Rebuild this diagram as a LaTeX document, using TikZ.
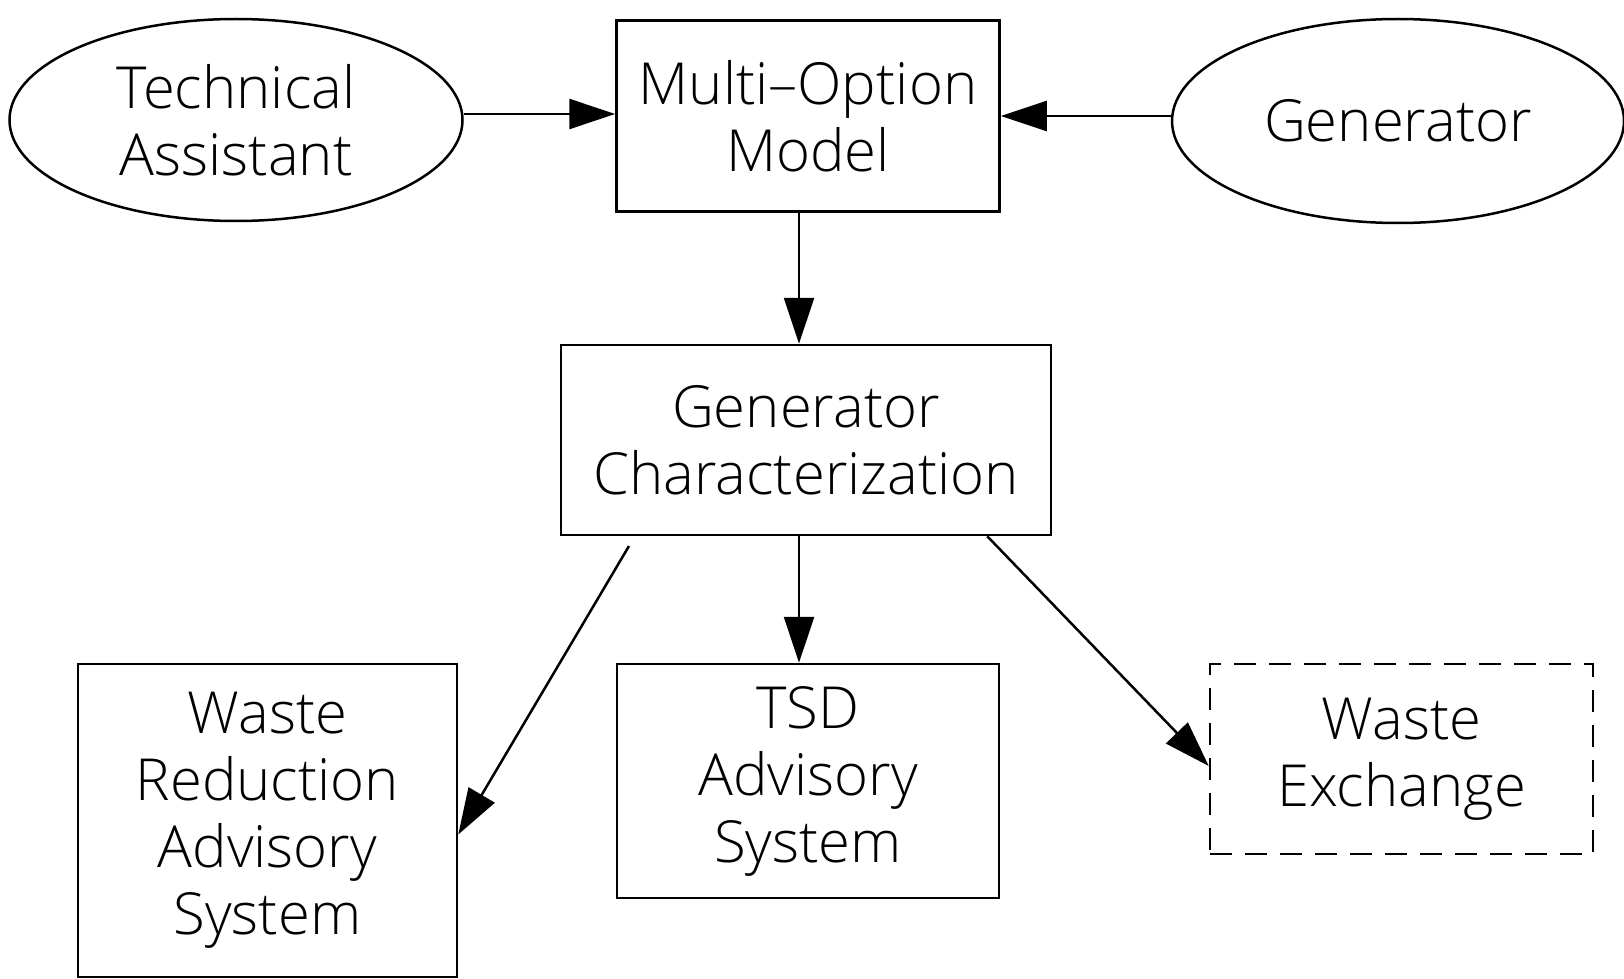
\documentclass[tikz,border=0pt]{standalone}
\usepackage{fontspec}
\setmainfont{Open Sans Light}
\usetikzlibrary{shapes.geometric,arrows.meta,calc}
\begin{document}
\begin{tikzpicture}[x=1pt,y=-1pt,
  lw/.style={line width=2.5pt},
  txt/.style={font=\fontsize{58}{67}\selectfont, align=center, text=black},
  boxnode/.style={lw, draw, rectangle, inner sep=0pt, txt},
  ellnode/.style={lw, draw, ellipse, inner sep=0pt, txt},
  arr/.style={lw, -{Triangle[length=46pt,width=30pt]}},
  dashbox/.style={lw, draw, dash pattern=on 22pt off 13pt, rectangle, inner sep=0pt, txt}]
\useasboundingbox (0,0) rectangle (1624,979);
\node[ellnode, minimum width=453pt, minimum height=202pt] (ta) at (236,120) {Technical\\Assistant};
\node[boxnode, minimum width=383pt, minimum height=191pt] (mo) at (808,116) {Multi–Option\\Model};
\node[ellnode, minimum width=452pt, minimum height=204pt] (gen) at (1398,121) {Generator};
\node[boxnode, minimum width=490pt, minimum height=190pt] (gc) at (806,440) {Generator\\Characterization};
\node[boxnode, minimum width=379pt, minimum height=313pt] (wras) at (267.5,820.5) {Waste\\Reduction\\Advisory\\System};
\node[boxnode, minimum width=382pt, minimum height=234pt] (tsd) at (808,781) {TSD\\Advisory\\System};
\node[dashbox, minimum width=383pt, minimum height=190pt] (we) at (1401.5,759) {Waste\\Exchange};
\coordinate (s1) at (629,546);
\draw[arr] ([yshift=6pt]ta.east) -- ([yshift=6pt]ta.east -| mo.west);
\draw[arr] ([yshift=5pt]gen.west) -- ([yshift=5pt]gen.west -| mo.east);
\draw[arr] ([xshift=-9pt]mo.south) -- ([xshift=-9pt]mo.south |- gc.north);
\draw[arr] ([xshift=-7pt]gc.south) -- ([xshift=-7pt]gc.south |- tsd.north);
\draw[arr] (s1) -- ([yshift=-14pt]wras.east);
\draw[arr] ([xshift=-65pt]gc.south east) -- ([yshift=-7pt]we.west);
\end{tikzpicture}
\end{document}
